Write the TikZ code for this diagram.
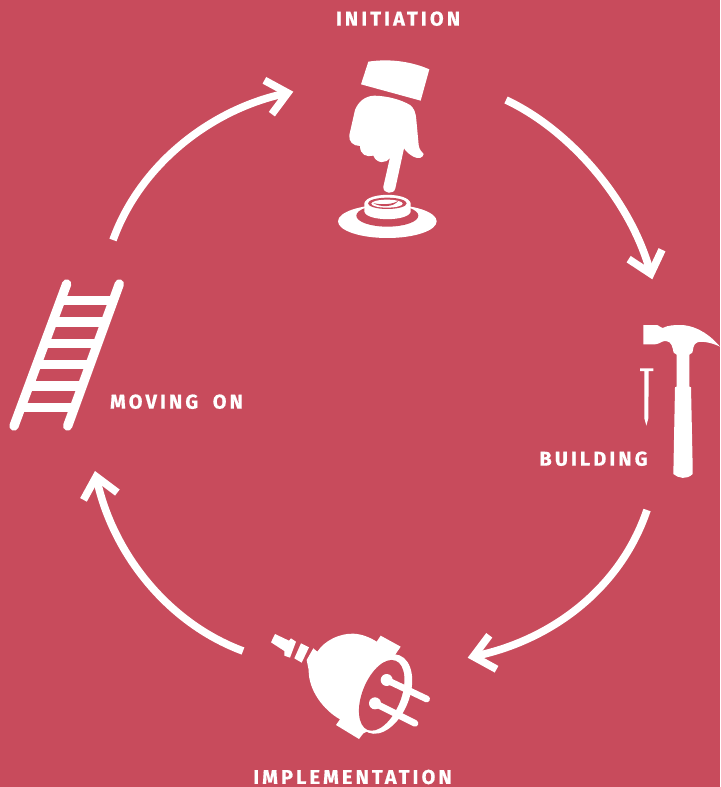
\documentclass[tikz,border=0pt]{standalone}
\usepackage{fontspec}
\setmainfont{Fira Sans}
\newfontfamily\lbl[LetterSpace=15.5,FakeBold=0.5]{Fira Sans Bold}
\usetikzlibrary{arrows.meta}
\definecolor{bgred}{RGB}{200,75,92}
\tikzset{
  arc/.style={draw=white,line width=5.7pt,-{Straight Barb[sharp,length=15pt,width=26pt,line width=5.7pt]}},
  lab/.style={text=white,font=\lbl\fontsize{15}{16}\selectfont,inner sep=0pt,anchor=center},
  ink/.style={fill=white,draw=none},
  hole/.style={fill=bgred,draw=none},
  zoomed/.style={x=0.25pt,y=-0.25pt},
}
\begin{document}
\begin{tikzpicture}[x=0.75pt,y=-0.75pt]
\path[use as bounding box,fill=bgred] (0,0) rectangle (720,787);
% labels
\node[lab] (init) at (398,18.7) {INITIATION};
\node[lab] (build) at (593.5,458.7) {BUILDING};
\node[lab] (impl) at (352.5,777) {IMPLEMENTATION};
\node[lab] (move) at (176.5,401.7) {MOVING\hspace{5pt} ON};
% connector ends
\coordinate (a1s) at (506,100);
\coordinate (a1e) at (652.3,279.3);
\coordinate (a2s) at (647,510);
\coordinate (a2e) at (467.7,657.7);
\coordinate (a3s) at (243,651);
\coordinate (a3e) at (95,471);
\coordinate (a4s) at (113,240);
\coordinate (a4e) at (293.3,91.7);
\draw[arc] (a1s) .. controls (570,130) and (630,200) .. (a1e);
\draw[arc] (a2s) .. controls (620,590) and (550,640) .. (a2e);
\draw[arc] (a3s) .. controls (165,622) and (112,550) .. (a3e);
\draw[arc] (a4s) .. controls (140,165) and (210,110) .. (a4e);
% hand and button
\begin{scope}[shift={(320,40)},zoomed]
\fill[ink] (145,65) .. controls (210,55) and (275,65) .. (328,88) -- (302,182) -- (123,133) -- cycle;
\fill[ink] (163,167) .. controls (205,168) and (245,180) .. (270,195)
  .. controls (282,205) and (287,215) .. (289,240) -- (296,315)
  .. controls (298,330) and (305,335) .. (311,342)
  .. controls (308,355) and (295,358) .. (280,350)
  .. controls (268,343) and (258,335) .. (252,325)
  -- (226,445) .. controls (222,465) and (188,462) .. (190,440)
  -- (210,352) .. controls (200,372) and (170,372) .. (160,347)
  .. controls (140,352) and (120,345) .. (120,318)
  .. controls (100,318) and (85,305) .. (88,285)
  -- (105,210) .. controls (115,185) and (135,168) .. (163,167) -- cycle;
\fill[ink] (202,544) ellipse [x radius=148,y radius=50];
\fill[hole] (202,527) ellipse [x radius=93,y radius=33];
\fill[ink] (133,490) -- (133,515) .. controls (140,545) and (265,545) .. (272,515) -- (272,490)
  .. controls (265,456) and (140,456) .. (133,490) -- cycle;
\fill[hole] (202,490) ellipse [x radius=58,y radius=17];
\fill[ink] (201,491) ellipse [x radius=47,y radius=12];
\fill[hole] (160,489) .. controls (180,503) and (222,502) .. (235,482) .. controls (222,493) and (182,496) .. (160,489) -- cycle;
\end{scope}
% hammer and nail
\begin{scope}[shift={(620,310)},zoomed]
\fill[ink] (70,45) -- (112,45) .. controls (120,47) and (122,55) .. (128,54)
  .. controls (145,45) and (165,45) .. (185,45)
  .. controls (235,48) and (275,80) .. (300,110)
  .. controls (280,100) and (250,92) .. (232,97)
  .. controls (218,102) and (220,120) .. (217,128) -- (208,134)
  -- (208,230) -- (213,232) -- (218,470) -- (218,492)
  .. controls (200,510) and (175,505) .. (160,492)
  -- (165,232) -- (170,230) -- (170,134) -- (161,128)
  .. controls (157,110) and (155,95) .. (138,93)
  .. controls (125,92) and (120,102) .. (105,103) -- (70,103) -- cycle;
\fill[ink] (60,175) -- (100,175) -- (100,183) -- (86,183) -- (85,325) -- (79,347) -- (73,325) -- (73,183) -- (60,183) -- cycle;
\end{scope}
% plug
\begin{scope}[shift={(260,620)},zoomed]
\fill[ink] (45,42) -- (87,62) -- (93,55) -- (108,65) -- (90,113) -- (73,107) -- (73,93) -- (33,67) -- cycle;
\fill[ink] (123,70) -- (147,82) -- (125,128) -- (103,115) -- cycle;
\fill[ink] (160,85) -- (172,95) .. controls (195,60) and (240,40) .. (280,41)
  .. controls (305,42) and (330,52) .. (350,65) -- (362,47) -- (422,80) -- (405,105)
  -- (440,200) -- (330,330) -- (310,340) -- (297,357) -- (228,315) -- (240,298)
  .. controls (190,270) and (145,210) .. (146,150) -- (140,120) -- cycle;
\begin{scope}[shift={(372,222)},rotate=68]
\fill[ink] (0,0) ellipse [x radius=125,y radius=76];
\end{scope}
\begin{scope}[shift={(365,226)},rotate=68]
\fill[hole] (0,0) ellipse [x radius=112,y radius=58];
\end{scope}
\draw[white,line width=5pt,line cap=round] (380,180) -- (500,237);
\draw[white,line width=5pt,line cap=round] (345,250) -- (465,310);
\fill[ink] (380,180) circle [radius=18];
\fill[ink] (345,250) circle [radius=18];
\end{scope}
% ladder
\begin{scope}[shift={(0,270)},zoomed]
\draw[white,line width=7pt,line cap=round] (200,42) -- (42,468);
\draw[white,line width=7pt,line cap=round] (358,42) -- (203,468);
\foreach \yy/\xa/\xb in {91.5/181/340,156/157/317,220/133/293,284/110/270,348/86/247,412/62/223}
  \draw[white,line width=7.2pt] (\xa,\yy) -- (\xb,\yy);
\end{scope}
\end{tikzpicture}
\end{document}
